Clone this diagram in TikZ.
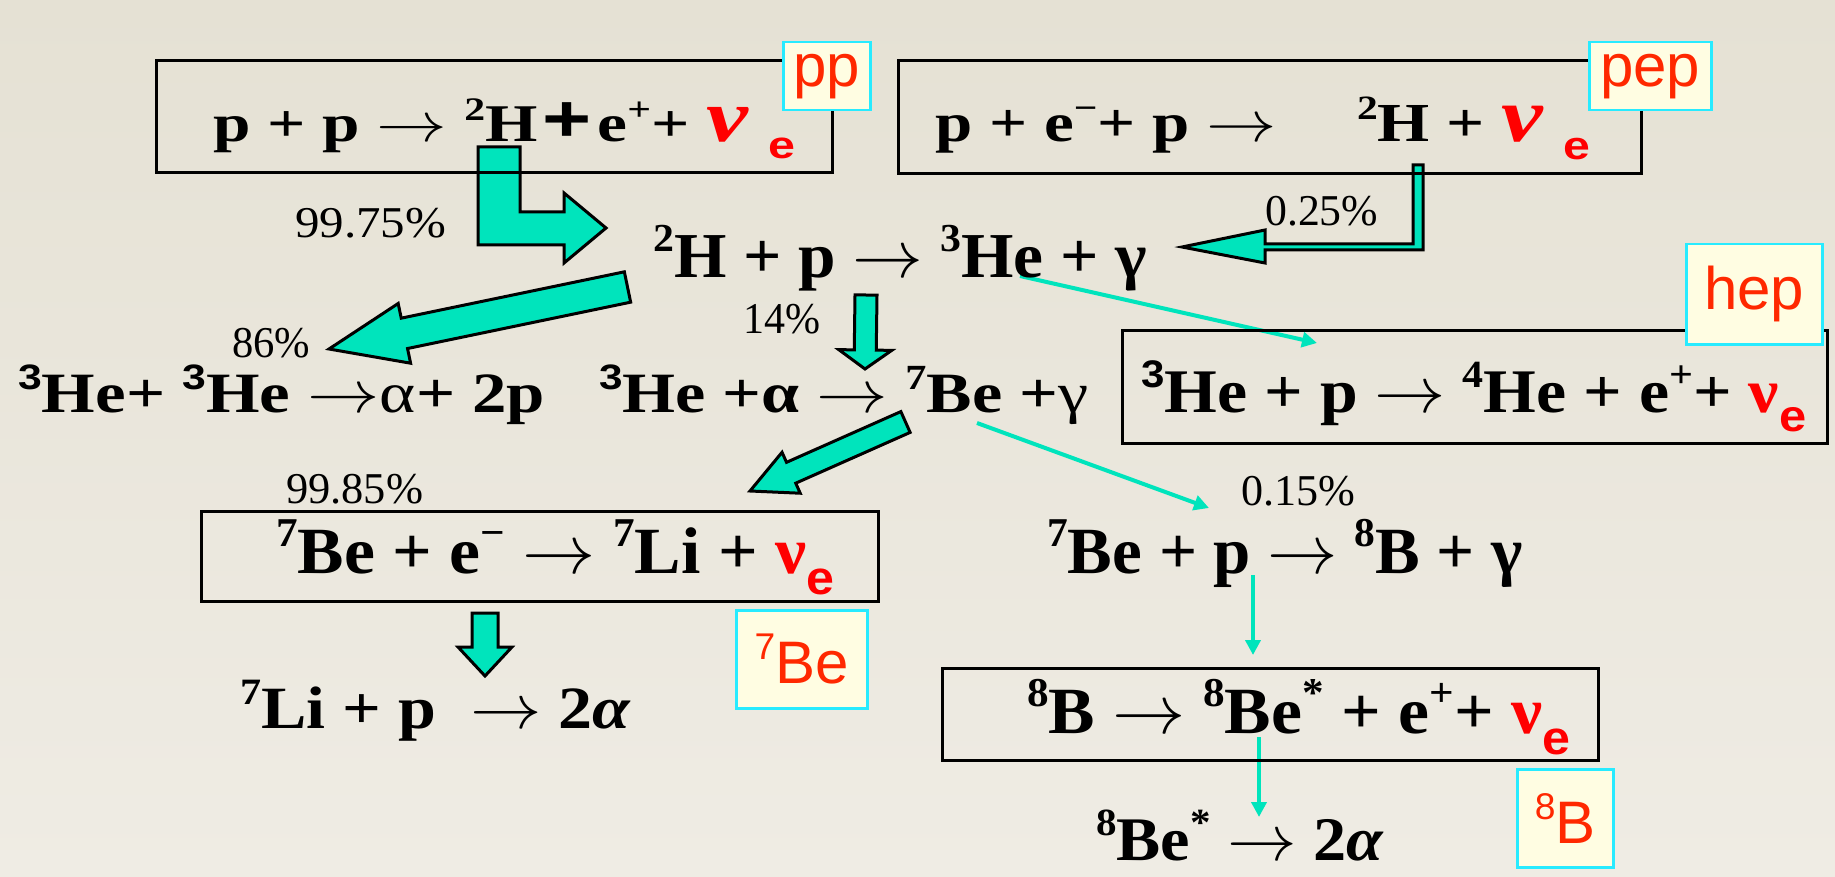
\documentclass[tikz,border=0pt]{standalone}
\usepackage{fontspec}
\usepackage{graphicx}
\setmainfont{Liberation Serif}
\newfontfamily\arialf{Liberation Sans}
\usetikzlibrary{arrows.meta, calc}

\definecolor{mint}{RGB}{0,228,188}
\definecolor{nured}{RGB}{255,0,0}
\definecolor{tagred}{RGB}{255,40,0}
\definecolor{tagfill}{RGB}{255,253,226}
\definecolor{tagline}{RGB}{40,235,255}
\definecolor{bgtop}{RGB}{229,225,212}
\definecolor{bgbot}{RGB}{239,236,228}

\newcommand{\upsc}[1]{\raisebox{0.40em}{\scalebox{0.62}{#1}}}
\newcommand{\arr}{\resizebox{1.05em}{!}{$\rightarrow$}}
\newcommand{\esub}{\raisebox{-0.32em}{\scalebox{0.72}{\color{nured}\arialf\bfseries e}}}
\newcommand{\nuit}{{\color{nured}\scalebox{1.4}{\itshape ν}}}
\newcommand{\nub}{{\color{nured}ν}}
\newcommand{\fitw}[2]{\resizebox{#1pt}{\height}{#2}}
\newcommand{\blockarrow}[5]{%
  \coordinate (ba) at ($(#2)!#5!(#1)$);
  \draw [fatarrow] ($(#1)!#3!90:(#2)$) -- ($(ba)!#3!90:(#2)$) -- ($(ba)!#4!90:(#2)$) -- (#2)
    -- ($(ba)!#4!-90:(#2)$) -- ($(ba)!#3!-90:(#2)$) -- ($(#1)!#3!-90:(#2)$) -- cycle;}

\tikzset{
  eqn/.style={font=\fontsize{#1}{#1}\selectfont\bfseries, inner sep=0pt, anchor=base west},
  pct/.style={font=\fontsize{44}{44}\selectfont, inner sep=0pt, anchor=base west},
  tagbox/.style={draw=tagline, line width=2.5pt, fill=tagfill, text=tagred,
    font=\arialf\fontsize{60}{60}\selectfont, inner sep=0pt, anchor=north west},
  eqbox/.style={draw=black, line width=3pt},
  fatarrow/.style={fill=mint, draw=black, line width=3pt, line join=miter},
  thinarrow/.style={draw=mint, line width=4pt, -{Triangle[length=15pt,width=15pt]}},
}

\begin{document}
\begin{tikzpicture}[x=1pt, y=-1pt]
\useasboundingbox (0,0) rectangle (1835,877);
\fill [top color=bgtop, bottom color=bgbot] (0,0) rectangle (1835,877);

% fat arrows
\draw [fatarrow] (478,147) -- (520,147) -- (520,212) -- (564,212) -- (564,193) -- (606,228)
  -- (564,263) -- (564,245) -- (478,245) -- cycle;
\draw [fatarrow] (1413,165) -- (1423,165) -- (1423,250) -- (1265,250) -- (1265,263) -- (1182,247)
  -- (1265,230) -- (1265,244) -- (1413,244) -- cycle;

\coordinate (s86) at (627.5,287);  \coordinate (t86) at (329,349);
\coordinate (s14) at (866,295);    \coordinate (t14) at (865,369);
\coordinate (s985) at (905.5,422); \coordinate (t985) at (750,491);
\coordinate (sli) at (485,613);    \coordinate (tli) at (485,676);
\blockarrow{s86}{t86}{15.5pt}{30.5pt}{77pt}
\blockarrow{s14}{t14}{11pt}{26.5pt}{19pt}
\blockarrow{s985}{t985}{11.4pt}{22.4pt}{45pt}
\blockarrow{sli}{tli}{13pt}{27pt}{29pt}

% thin arrows
\coordinate (she) at (1020,276);  \coordinate (the) at (1317,343);
\coordinate (sbe) at (977,423);   \coordinate (tbe) at (1209,508);
\coordinate (sbp) at (1253,575);  \coordinate (tbp) at (1253,655);
\coordinate (sbs) at (1259,737);  \coordinate (tbs) at (1259,817);
\draw [thinarrow] (she) -- (the);
\draw [thinarrow] (sbe) -- (tbe);
\draw [thinarrow] (sbp) -- (tbp);
\draw [thinarrow] (sbs) -- (tbs);

% boxes
\draw [eqbox] (156,61)   rectangle (832,173);
\draw [eqbox] (898,61)   rectangle (1641,174);
\draw [eqbox] (1122,330) rectangle (1827,443);
\draw [eqbox] (201,511)  rectangle (878,601);
\draw [eqbox] (942,668)  rectangle (1598,760);

\node [tagbox, minimum width=87pt, minimum height=68pt]  (pptag)  at (782,41)   {pp};
\node [tagbox, minimum width=122pt, minimum height=68pt] (peptag) at (1588,41)  {pep};
\node [tagbox, minimum width=136pt, minimum height=100pt] (heptag) at (1685,243) {hep};
\node [tagbox, minimum width=131pt, minimum height=98pt] (betag)  at (735,609)  {\upsc{7}Be};
\node [tagbox, minimum width=96pt, minimum height=98pt]  (btag)   at (1516,768) {\upsc{8}B};

% reactions
\node [eqn=53] (ppeq)  at (213,142)  {\fitw{582}{p + p \arr\ \upsc{2}H\hspace{0.08em}{\arialf\scalebox{1.25}{+}}\hspace{0.08em}e\upsc{+}+ \nuit\hspace{0.3em}\esub}};
\node [eqn=55] (pepeq) at (935,142)  {\fitw{655}{p + e\upsc{−}+ p \arr\hspace{1.2em}\upsc{2}H + \nuit\hspace{0.3em}\esub}};
\node [eqn=64] (dpeq)  at (653,277)  {\fitw{494}{\upsc{2}H + p \arr\ \upsc{3}He + γ}};
\node [eqn=57] (hehe)  at (18,412)   {\fitw{527}{\upsc{\arialf 3}He+ \upsc{\arialf 3}He \arr{\mdseries α}+ 2p}};
\node [eqn=57] (heal)  at (599,412)  {\fitw{489}{\upsc{\arialf 3}He +α \arr\ \upsc{7}Be +{\mdseries γ}}};
\node [eqn=62] (hepeq) at (1141,412) {\fitw{665}{\upsc{\arialf 3}He + p \arr\ \upsc{4}He + e\upsc{+}+ \nub\esub}};
\node [eqn=66] (beeq)  at (276,573)  {\fitw{558}{\upsc{7}Be + e\upsc{−} \arr\ \upsc{7}Li + \nub\esub}};
\node [eqn=60] (lieq)  at (240,728)  {\fitw{390}{\upsc{7}Li + p \ \arr\ 2{\itshape α}}};
\node [eqn=66] (bpeq)  at (1047,573) {\fitw{476}{\upsc{7}Be + p \arr\ \upsc{8}B + γ}};
\node [eqn=66] (bdeq)  at (1027,733) {\fitw{543}{\upsc{8}B \arr\ \upsc{8}Be\upsc{*} + e\upsc{+}+ \nub\esub}};
\node [eqn=62] (bsteq) at (1096,860) {\fitw{287}{\upsc{8}Be\upsc{*} \arr\ 2{\itshape α}}};

% branching ratios
\node [pct] (p9975) at (295,237)  {\fitw{151}{99.75\%}};
\node [pct] (p025)  at (1265,226) {\fitw{113}{0.25\%}};
\node [pct] (p86)   at (232,357)  {\fitw{78}{86\%}};
\node [pct] (p14)   at (743,333)  {\fitw{77}{14\%}};
\node [pct] (p9985) at (286,503)  {\fitw{137}{99.85\%}};
\node [pct] (p015)  at (1241,505) {\fitw{114}{0.15\%}};

\end{tikzpicture}
\end{document}
